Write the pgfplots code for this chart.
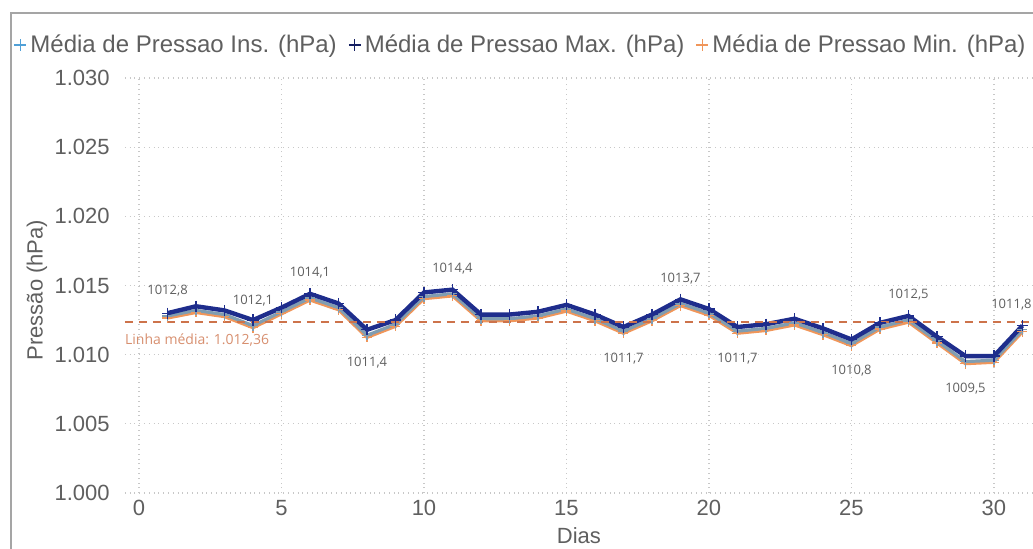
\documentclass[border=0pt]{standalone}
\usepackage{fontspec}
\setmainfont{Liberation Sans}
\newfontfamily\seg{Open Sans}
\usepackage{pgfplots}
\pgfplotsset{compat=1.18}
\definecolor{navy}{RGB}{30,45,140}
\definecolor{insblue}{RGB}{80,160,215}
\definecolor{minc}{RGB}{240,150,90}
\definecolor{meanc}{RGB}{205,115,75}
\definecolor{txt}{RGB}{95,95,95}
\definecolor{gridc}{RGB}{200,200,200}
\definecolor{framec}{RGB}{165,165,165}

\pgfplotstableread{
x max ins min
1 1013.0 1012.8 1012.65
2 1013.5 1013.2 1013.05
3 1013.2 1012.9 1012.75
4 1012.5 1012.1 1011.95
5 1013.4 1013.1 1012.95
6 1014.4 1014.1 1013.95
7 1013.7 1013.4 1013.25
8 1011.8 1011.4 1011.25
9 1012.5 1012.2 1012.05
10 1014.5 1014.2 1014.05
11 1014.7 1014.4 1014.25
12 1012.9 1012.6 1012.45
13 1012.9 1012.6 1012.45
14 1013.1 1012.8 1012.65
15 1013.6 1013.3 1013.15
16 1012.9 1012.6 1012.45
17 1012.0 1011.7 1011.55
18 1012.9 1012.6 1012.45
19 1014.0 1013.7 1013.55
20 1013.3 1013.0 1012.85
21 1012.0 1011.7 1011.55
22 1012.2 1011.9 1011.75
23 1012.6 1012.3 1012.15
24 1011.9 1011.6 1011.45
25 1011.1 1010.8 1010.65
26 1012.3 1012.0 1011.85
27 1012.8 1012.5 1012.35
28 1011.3 1011.0 1010.85
29 1009.9 1009.5 1009.35
30 1009.9 1009.6 1009.45
31 1012.1 1011.8 1011.65
}\pdata

\begin{document}
\begin{tikzpicture}
\begin{axis}[
  scale only axis, width=454.125pt, height=207.5pt,
  xmin=-0.5, xmax=31.37, ymin=1000, ymax=1030,
  xtick={0,5,...,30}, ytick={1000,1005,...,1030},
  grid=major, major grid style={gridc, dotted, line width=0.6pt},
  axis line style={draw=none}, tick style={draw=none},
  /pgf/number format/assume math mode=true,
  ticklabel style={font=\fontsize{11}{13}\selectfont, text=txt},
  yticklabel style={/pgf/number format/fixed, /pgf/number format/precision=0, /pgf/number format/1000 sep={.}, xshift=-4pt},
  xlabel={Dias}, ylabel={Pressão (hPa)},
  label style={font=\fontsize{11}{13}\selectfont, text=txt},
  xlabel style={at={(axis description cs:0.5,0)}, anchor=center, yshift=-21.5pt},
  ylabel style={at={([xshift=-43.9pt]axis description cs:0,0.489)}, anchor=center},
  clip=false,
  legend columns=3,
  legend style={at={(axis description cs:-0.1219,1.0795)}, anchor=west, draw=none, fill=none,
    font=\fontsize{12}{14}\selectfont, text=txt, inner sep=0pt,
    /tikz/every even column/.append style={column sep=4pt}},
  legend image code/.code={\draw[#1, only marks] plot coordinates {(0.3em,0pt)};},
]
\addlegendimage{insblue, mark=+, mark size=3pt, line width=0.6pt}
\addlegendentry{Média de Pressao Ins. (hPa)}
\addlegendimage{navy!70!black, mark=+, mark size=3pt, line width=0.6pt}
\addlegendentry{Média de Pressao Max. (hPa)}
\addlegendimage{minc, mark=+, mark size=3pt, line width=0.6pt}
\addlegendentry{Média de Pressao Min. (hPa)}

\addplot[forget plot, minc, line width=1.6pt, mark=+, mark size=2.5pt, mark options={line width=0.6pt}] table[x=x, y=min] {\pdata};
\addplot[forget plot, insblue!70!minc, line width=1.6pt, mark=+, mark size=2.5pt, mark options={line width=0.6pt}] table[x=x, y=ins] {\pdata};
\addplot[forget plot, navy, line width=2.2pt, mark=+, mark size=2.8pt, mark options={line width=0.6pt}] table[x=x, y=max] {\pdata};

\addplot[forget plot, meanc, line width=1.4pt, dash pattern=on 4pt off 3pt] coordinates {(-0.5,1012.36) (31.37,1012.36)};
\node[anchor=west, inner sep=0pt, font=\seg\fontsize{7}{8}\selectfont, text=meanc!80!white] at (axis cs:-0.5,1012.36) [yshift=-9pt] {Linha média: 1.012,36};

\addplot[forget plot, draw=none, mark=none, nodes near coords, point meta=explicit symbolic,
  nodes near coords style={font=\seg\fontsize{6.5}{7}\selectfont, text=txt, anchor=center, yshift=12.5pt}]
  table[meta=label] {
x y label
1 1012.8 1012,8
4 1012.1 1012,1
6 1014.1 1014,1
11 1014.4 1014,4
19 1013.7 1013,7
27 1012.5 1012,5
};
\addplot[forget plot, draw=none, mark=none, nodes near coords, point meta=explicit symbolic,
  nodes near coords style={font=\seg\fontsize{6.5}{7}\selectfont, text=txt, anchor=center, yshift=12.5pt, xshift=-5.5pt}]
  table[meta=label] {
x y label
31 1011.8 1011,8
};
\addplot[forget plot, draw=none, mark=none, nodes near coords, point meta=explicit symbolic,
  nodes near coords style={font=\seg\fontsize{6.5}{7}\selectfont, text=txt, anchor=center, yshift=-13.5pt}]
  table[meta=label] {
x y label
8 1011.4 1011,4
17 1011.7 1011,7
21 1011.7 1011,7
25 1010.8 1010,8
29 1009.5 1009,5
};
\end{axis}
\draw[framec, line width=1pt] (-56.9pt,-40pt) -- (-56.9pt,240.25pt) -- (470pt,240.25pt);
\pgfresetboundingbox
\path[use as bounding box] (-62.375pt,-27.5pt) rectangle (454.125pt,246.5pt);
\end{tikzpicture}
\end{document}
